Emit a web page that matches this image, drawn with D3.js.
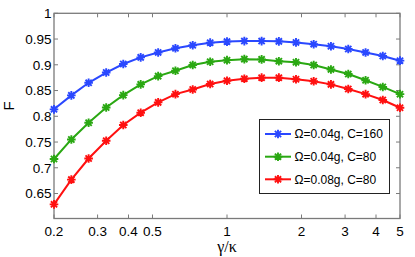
<!DOCTYPE html>
<html><head><meta charset="utf-8">
<script src="https://cdn.jsdelivr.net/npm/d3@7"></script>
<style>body{margin:0;background:#fff}svg{display:block}</style>
</head><body><svg id="c" width="415" height="257"></svg>
<script>
const gammaKappa = [0.2,0.235,0.276,0.325,0.381,0.448,0.527,0.619,0.727,0.855,1.0,1.175,1.38,1.62,1.90,2.24,2.63,3.09,3.63,4.26,5.0];
const fBlue  = [0.8135,0.8406,0.865,0.885,0.9015,0.9144,0.924,0.932,0.938,0.943,0.945,0.946,0.946,0.9455,0.9435,0.940,0.936,0.9306,0.924,0.917,0.908];
const fGreen = [0.717,0.755,0.7875,0.817,0.841,0.862,0.878,0.8885,0.8995,0.906,0.909,0.911,0.9105,0.907,0.905,0.8995,0.891,0.882,0.870,0.857,0.843];
const fRed   = [0.629,0.677,0.718,0.7525,0.783,0.807,0.827,0.843,0.852,0.8626,0.869,0.873,0.875,0.875,0.872,0.868,0.862,0.853,0.843,0.8316,0.8166];
const seriesNames = ["\u03A9=0.04g, C=160","\u03A9=0.04g, C=80","\u03A9=0.08g, C=80"];
const seriesColors = ["#2a48ff","#2aa812","#ff1010"];
const xTicks = [0.2,0.3,0.4,0.5,1,2,3,4,5];
const xTickLabels = ["0.2","0.3","0.4","0.5","1","2","3","4","5"];
const yTicks = [0.65,0.7,0.75,0.8,0.85,0.9,0.95,1];
const yTickLabels = ["0.65","0.7","0.75","0.8","0.85","0.9","0.95","1"];

const svg = d3.select("#c");
const L=54, R=400, T=13.3, B=218.5;
const x = d3.scaleLog().domain([0.2,5]).range([L,R]);
const y = d3.scaleLinear().domain([0.6015,1]).range([B,T]);
const font = "Liberation Sans, Arial, sans-serif";
const axisCol = "#7a7a7a";

const g = svg.append("g");
xTicks.forEach(v=>{
  g.append("line").attr("x1",x(v)).attr("x2",x(v)).attr("y1",B).attr("y2",B-4).attr("stroke",axisCol);
  g.append("line").attr("x1",x(v)).attr("x2",x(v)).attr("y1",T).attr("y2",T+4).attr("stroke",axisCol);
});
yTicks.forEach(v=>{
  g.append("line").attr("x1",L).attr("x2",L+4).attr("y1",y(v)).attr("y2",y(v)).attr("stroke",axisCol);
  g.append("line").attr("x1",R).attr("x2",R-4).attr("y1",y(v)).attr("y2",y(v)).attr("stroke",axisCol);
});
g.append("rect").attr("x",L).attr("y",T).attr("width",R-L).attr("height",B-T)
  .attr("fill","none").attr("stroke",axisCol).attr("stroke-width",1.3);

xTicks.forEach((v,i)=>{
  svg.append("text").attr("x",x(v)).attr("y",236).attr("text-anchor","middle")
    .attr("font-family",font).attr("font-size",13.5).text(xTickLabels[i]);
});
yTicks.forEach((v,i)=>{
  svg.append("text").attr("x",51.5).attr("y",y(v)+4.8).attr("text-anchor","end")
    .attr("font-family",font).attr("font-size",13.5).text(yTickLabels[i]);
});
svg.append("text").attr("x",227).attr("y",252).attr("text-anchor","middle")
  .attr("font-family","Liberation Serif, Times New Roman, serif").attr("font-size",16).text("\u03B3/\u03BA");
svg.append("text").attr("transform","translate(14,106) rotate(-90)").attr("text-anchor","middle")
  .attr("font-family",font).attr("font-size",15).text("F");

function star(sel,cx,cy,col){
  const r=4.3, d=r*0.72;
  const p=`M${cx-r},${cy}L${cx+r},${cy}M${cx},${cy-r}L${cx},${cy+r}M${cx-d},${cy-d}L${cx+d},${cy+d}M${cx-d},${cy+d}L${cx+d},${cy-d}`;
  sel.append("path").attr("d",p).attr("stroke",col).attr("stroke-width",1.9).attr("fill","none");
}
const all=[fBlue,fGreen,fRed];
const line=d3.line().x((d,i)=>x(gammaKappa[i])).y(d=>y(d));
all.forEach((s,k)=>{
  svg.append("path").attr("d",line(s)).attr("fill","none").attr("stroke",seriesColors[k]).attr("stroke-width",2);
  s.forEach((v,i)=>star(svg,x(gammaKappa[i]),y(v),seriesColors[k]));
});

const lg=svg.append("g");
lg.append("rect").attr("x",259.5).attr("y",119.5).attr("width",130).attr("height",74)
  .attr("fill","#fff").attr("stroke","#222").attr("stroke-width",1);
const ly=[134,156.7,179.3];
seriesNames.forEach((n,k)=>{
  lg.append("line").attr("x1",265).attr("x2",291).attr("y1",ly[k]).attr("y2",ly[k]).attr("stroke",seriesColors[k]).attr("stroke-width",2);
  star(lg,278,ly[k],seriesColors[k]);
  lg.append("text").attr("x",294.5).attr("y",ly[k]+4.3).attr("font-family",font).attr("font-size",12).text(n);
});
</script></body></html>
